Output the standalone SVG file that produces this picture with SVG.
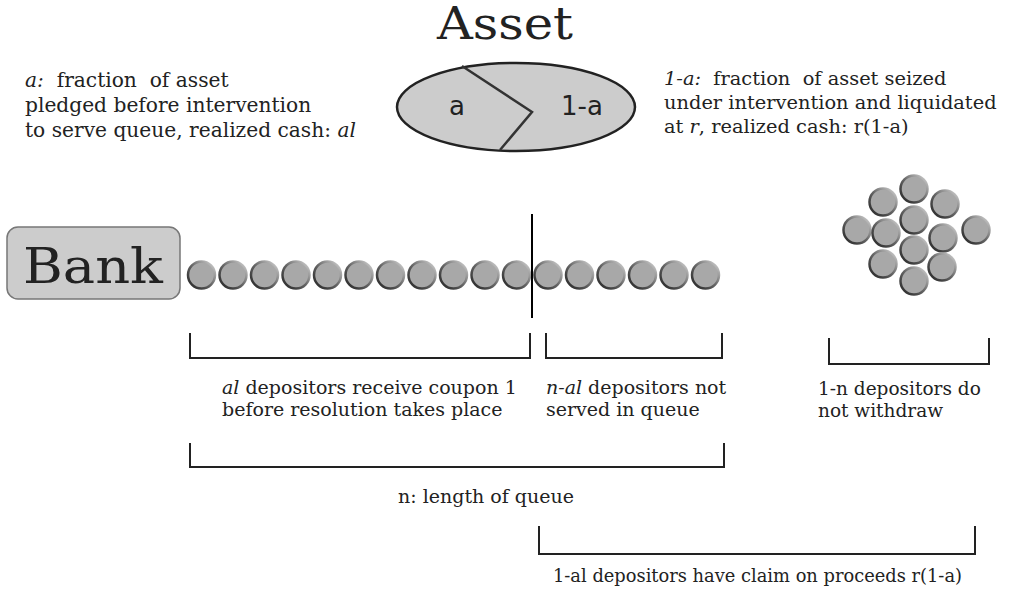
<svg xmlns="http://www.w3.org/2000/svg" width="1009" height="594" viewBox="0 0 1009 594">
<defs>
<linearGradient id="edge" x1="1" y1="0" x2="0" y2="1">
<stop offset="0" stop-color="#d8d8d8"/>
<stop offset="0.5" stop-color="#666"/>
<stop offset="1" stop-color="#222"/>
</linearGradient>
<style>
.t{font-family:"DejaVu Serif","Liberation Serif",serif;fill:#222;}
.s{font-family:"DejaVu Sans","Liberation Sans",sans-serif;fill:#222;}
.i{font-style:italic;}
.dep{fill:#a8a8a8;stroke:url(#edge);stroke-width:2.5;}
.br{fill:none;stroke:#222;stroke-width:2;}
</style>
</defs>
<rect width="1009" height="594" fill="#fff"/>
<g id="title"><text class="t" x="437" y="39" font-size="45" textLength="136" lengthAdjust="spacingAndGlyphs">Asset</text></g>
<g id="asset">
<ellipse cx="516" cy="107" rx="119" ry="44" fill="#cccccc" stroke="#222" stroke-width="2.5"/>
<polyline points="462,66 532,112 500,150" fill="none" stroke="#333" stroke-width="2.5"/>
<text class="s" x="457" y="115" font-size="26" text-anchor="middle">a</text>
<text class="s" x="582" y="115" font-size="26" text-anchor="middle">1-a</text>
</g>
<g id="note-a">
<text class="t" font-size="20.2" x="25" y="87"><tspan class="i">a:</tspan>&#160; fraction&#160; of asset</text>
<text class="t" font-size="20.2" x="25" y="112">pledged before intervention</text>
<text class="t" font-size="20.2" x="25" y="137">to serve queue, realized cash: <tspan class="i">al</tspan></text>
</g>
<g id="note-1a">
<text class="t" font-size="19.4" x="664" y="85"><tspan class="i">1-a:</tspan>&#160; fraction&#160; of asset seized</text>
<text class="t" font-size="19.4" x="664" y="109">under intervention and liquidated</text>
<text class="t" font-size="19.4" x="664" y="133">at <tspan class="i">r</tspan>, realized cash: r(1-a)</text>
</g>
<g id="bank">
<rect x="7" y="227" width="173" height="72" rx="11" fill="#cccccc" stroke="#777" stroke-width="1.5"/>
<text class="t" x="23" y="283" font-size="49" fill="#333" textLength="140" lengthAdjust="spacingAndGlyphs">Bank</text>
</g>
<g id="queue">
<circle class="dep" cx="201.5" cy="275" r="13.5"/>
<circle class="dep" cx="233" cy="275" r="13.5"/>
<circle class="dep" cx="264.5" cy="275" r="13.5"/>
<circle class="dep" cx="296" cy="275" r="13.5"/>
<circle class="dep" cx="327.5" cy="275" r="13.5"/>
<circle class="dep" cx="359" cy="275" r="13.5"/>
<circle class="dep" cx="390.5" cy="275" r="13.5"/>
<circle class="dep" cx="422" cy="275" r="13.5"/>
<circle class="dep" cx="453.5" cy="275" r="13.5"/>
<circle class="dep" cx="485" cy="275" r="13.5"/>
<circle class="dep" cx="516.5" cy="275" r="13.5"/>
<circle class="dep" cx="548" cy="275" r="13.5"/>
<circle class="dep" cx="579.5" cy="275" r="13.5"/>
<circle class="dep" cx="611" cy="275" r="13.5"/>
<circle class="dep" cx="642.5" cy="275" r="13.5"/>
<circle class="dep" cx="674" cy="275" r="13.5"/>
<circle class="dep" cx="705.5" cy="275" r="13.5"/>
</g>
<g id="cluster">
<circle class="dep" cx="914" cy="189" r="13.5"/>
<circle class="dep" cx="883" cy="202" r="13.5"/>
<circle class="dep" cx="945" cy="204" r="13.5"/>
<circle class="dep" cx="914" cy="220" r="13.5"/>
<circle class="dep" cx="857" cy="230" r="13.5"/>
<circle class="dep" cx="886" cy="233" r="13.5"/>
<circle class="dep" cx="943" cy="238" r="13.5"/>
<circle class="dep" cx="976" cy="230" r="13.5"/>
<circle class="dep" cx="914" cy="250" r="13.5"/>
<circle class="dep" cx="883" cy="264" r="13.5"/>
<circle class="dep" cx="942" cy="267" r="13.5"/>
<circle class="dep" cx="914" cy="281" r="13.5"/>
</g>
<g id="connectors">
<line x1="532" y1="214" x2="532" y2="318" stroke="#000" stroke-width="2"/>
<path class="br" d="M190,333 V358 H530 V333"/>
<path class="br" d="M546,333 V358 H722 V333"/>
<path class="br" d="M829,338 V364 H989 V338"/>
<path class="br" d="M190,443 V467 H724 V443"/>
<path class="br" d="M539,526 V554 H975 V526"/>
</g>
<g id="labels">
<text class="t" font-size="19" x="222" y="394"><tspan class="i">al</tspan> depositors receive coupon 1</text>
<text class="t" font-size="19" x="222" y="416">before resolution takes place</text>
<text class="t" font-size="19" x="546" y="394"><tspan class="i">n-al</tspan> depositors not</text>
<text class="t" font-size="19" x="546" y="416">served in queue</text>
<text class="t" font-size="18.5" x="818" y="395">1-n depositors do</text>
<text class="t" font-size="18.5" x="818" y="417">not withdraw</text>
<text class="t" font-size="19" x="398" y="503">n: length of queue</text>
<text class="t" font-size="18.5" x="553" y="582" textLength="409" lengthAdjust="spacingAndGlyphs">1-al depositors have claim on proceeds r(1-a)</text>
</g>
</svg>
